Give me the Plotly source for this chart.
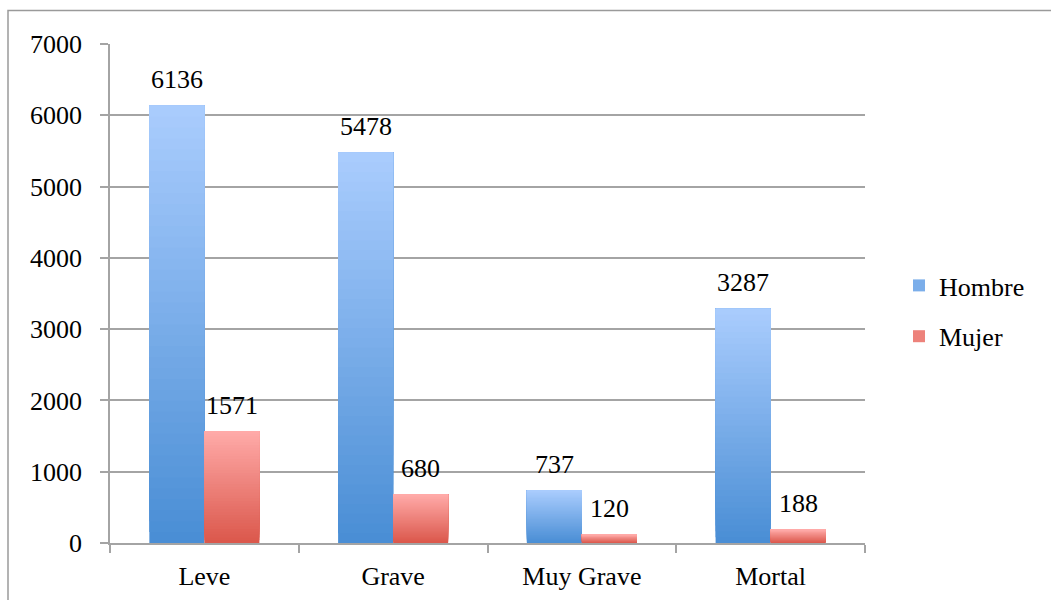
import plotly.graph_objects as go

# Data
categorias = ["Leve", "Grave", "Muy Grave", "Mortal"]
hombre = [6136, 5478, 737, 3287]
mujer = [1571, 680, 120, 188]
ticks_y = [0, 1000, 2000, 3000, 4000, 5000, 6000, 7000]

FONT = "'Liberation Serif', 'DejaVu Serif', serif"
FS = 26
GRID = "#a4a4a4"
N_SLICES = 40  # overlapping layers used to shade each bar with a gradient

W, H = 1051, 600
L, R, T, B = 110, 186, 44, 57
PW, PH = W - L - R, H - T - B


def mix(c0, c1, t):
    r, g, b = (round(a + (bb - a) * t) for a, bb in zip(c0, c1))
    return f"rgb({r},{g},{b})"


series = [
    # name, values, group, bottom colour, top colour
    ("Hombre", hombre, "h", (74, 142, 213), (169, 204, 253)),
    ("Mujer", mujer, "m", (219, 88, 76), (255, 170, 168)),
]

fig = go.Figure()

for name, vals, grp, c_bot, c_top in series:
    for i in range(N_SLICES):
        t = i / (N_SLICES - 1)
        # each layer runs from its own start up to the bar's full value,
        # so later (lighter) layers sit on top of earlier ones without gaps
        fig.add_bar(
            x=categorias,
            y=[v * (N_SLICES - i) / N_SLICES for v in vals],
            base=[v * i / N_SLICES for v in vals],
            offsetgroup=grp,
            legendgroup=grp,
            name=name,
            showlegend=(i == N_SLICES // 2),
            marker=dict(color=mix(c_bot, c_top, t), line=dict(width=0)),
            hoverinfo="skip",
        )

# Value labels above each bar
half = PW / len(categorias) * (1 - 0.417) / 4
annotations = []
for vals, dx in ((hombre, -half), (mujer, half)):
    for c, v in zip(categorias, vals):
        annotations.append(dict(
            x=c, y=v, xref="x", yref="y", text=str(v), showarrow=False,
            xshift=dx, yshift=26, yanchor="middle", xanchor="center",
            font=dict(family=FONT, size=FS, color="#000000"),
        ))


def px_to_paper_x(px):
    return (px - L) / PW


def px_to_paper_y(py):
    return (H - B - py) / PH


# Outer frame around the chart
frame = dict(
    type="rect", xref="paper", yref="paper",
    x0=px_to_paper_x(8), x1=px_to_paper_x(1060),
    y0=px_to_paper_y(610), y1=px_to_paper_y(10.5),
    line=dict(color="#9a9a9a", width=1.5), fillcolor="rgba(0,0,0,0)",
    layer="below",
)

fig.update_layout(
    width=W, height=H,
    margin=dict(l=L, r=R, t=T, b=B, autoexpand=False),
    paper_bgcolor="white", plot_bgcolor="white",
    barmode="group", bargap=0.417, bargroupgap=0,
    font=dict(family=FONT, size=FS, color="#000000"),
    showlegend=True,
    legend=dict(
        xref="container", yref="container",
        x=899 / W, y=1 - 262 / H, xanchor="left", yanchor="top",
        font=dict(family=FONT, size=FS), tracegroupgap=14,
        itemwidth=30, bgcolor="rgba(0,0,0,0)",
    ),
    annotations=annotations,
    shapes=[frame],
    xaxis=dict(
        type="category", showgrid=False, zeroline=False, automargin=False,
        showline=True, linecolor=GRID, linewidth=1.5,
        ticks="outside", tickson="boundaries", ticklen=8,
        tickcolor=GRID, tickwidth=1.5, ticklabelstandoff=9,
        tickfont=dict(family=FONT, size=FS),
    ),
    yaxis=dict(
        range=[0, 7000], tickvals=ticks_y, ticktext=[str(v) for v in ticks_y],
        showgrid=True, gridcolor=GRID, gridwidth=1.5, zeroline=False,
        automargin=False,
        showline=True, linecolor=GRID, linewidth=1.5,
        ticks="outside", ticklen=8, tickcolor=GRID, tickwidth=1.5,
        ticklabelstandoff=13, tickfont=dict(family=FONT, size=FS),
    ),
)

fig.write_html("out.html")
